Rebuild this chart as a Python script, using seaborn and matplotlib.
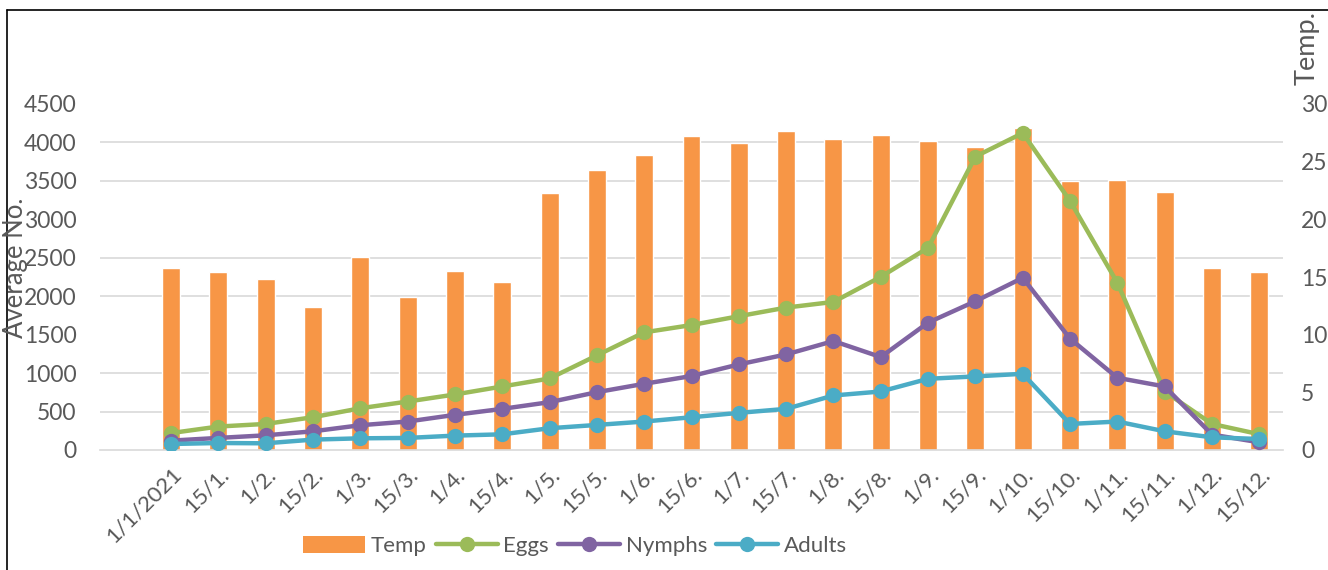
import numpy as np
import pandas as pd
import matplotlib
matplotlib.use('Agg')
import matplotlib.pyplot as plt
from matplotlib.lines import Line2D
from matplotlib.patches import Patch
from matplotlib.ticker import FixedLocator
import seaborn as sns

# --- data ---
dates = ['1/1/2021', '15/1.', '1/2.', '15/2.', '1/3.', '15/3.', '1/4.', '15/4.',
         '1/5.', '15/5.', '1/6.', '15/6.', '1/7.', '15/7.', '1/8.', '15/8.',
         '1/9.', '15/9.', '1/10.', '15/10.', '1/11.', '15/11.', '1/12.', '15/12.']
temp = [15.8, 15.4, 14.8, 12.4, 16.7, 13.3, 15.5, 14.6,
        22.3, 24.3, 25.6, 27.2, 26.6, 27.7, 27.0, 27.3,
        26.8, 26.3, 27.9, 23.3, 23.4, 22.4, 15.8, 15.4]
eggs = [220, 305, 339, 426, 543, 630, 722, 826,
        930, 1230, 1530, 1625, 1740, 1852, 1926, 2252,
        2630, 3817, 4122, 3239, 2174, 760, 339, 205]
nymphs = [122, 157, 191, 243, 322, 370, 457, 535,
          622, 752, 861, 962, 1113, 1243, 1417, 1209,
          1657, 1935, 2239, 1448, 939, 826, 200, 100]
adults = [78, 91, 87, 135, 152, 157, 187, 204,
          283, 326, 370, 426, 483, 535, 709, 761,
          926, 957, 991, 339, 370, 243, 165, 143]

series_names = ['Eggs', 'Nymphs', 'Adults']
colors = {'Temp': '#F79646', 'Eggs': '#9BBB59', 'Nymphs': '#8064A2', 'Adults': '#4BACC6'}

df_temp = pd.DataFrame({'date': dates, 'temp': temp})
df_lines = pd.DataFrame({'pos': np.arange(len(dates)), 'Eggs': eggs,
                         'Nymphs': nymphs, 'Adults': adults})
df_long = df_lines.melt(id_vars='pos', var_name='series', value_name='value')

# --- style ---
sns.set_style('white')
plt.rcParams['font.family'] = ['Lato', 'DejaVu Sans']
text_col = '#595959'
grid_col = '#D9D9D9'

fig = plt.figure(figsize=(13.28, 5.70), dpi=100)
ax1 = fig.add_axes([100 / 1328, 1 - 450 / 570, (1283 - 100) / 1328, (450 - 104) / 570])

# bars (temperature) on bottom axes, scale shown on the right
sns.barplot(data=df_temp, x='date', y='temp', color=colors['Temp'], width=0.38,
            saturation=1, ax=ax1, zorder=2)
ax1.set_ylim(0, 30)
ax1.set_xlim(-1.5, len(dates) - 0.5)
ax1.set_xlabel('')
ax1.set_ylabel('')

# lines (counts) on twin axes, scale on the left
ax2 = ax1.twinx()
sns.lineplot(data=df_long, x='pos', y='value', hue='series', hue_order=series_names,
             palette=colors, marker='o', markersize=11, markeredgewidth=0,
             linewidth=3.2, legend=False, ax=ax2, zorder=3)
ax2.set_ylim(0, 4500)
ax2.set_xlim(-1.5, len(dates) - 0.5)
ax2.set_xlabel('')
ax2.set_ylabel('')

# y axes: temp on the right, counts on the left
ax1.yaxis.tick_right()
ax1.set_yticks(np.arange(0, 31, 5))
ax2.yaxis.tick_left()
ax2.set_yticks(np.arange(0, 4501, 500))
# gridlines follow the left (count) axis, drawn on the bar axes so bars cover them
ax1.yaxis.set_minor_locator(FixedLocator(np.arange(0, 4501, 500) / 150))
ax1.grid(which='minor', axis='y', color=grid_col, linewidth=1.2, zorder=0)
ax1.grid(which='major', visible=False)
ax1.set_axisbelow(True)
ax1.tick_params(axis='y', which='both', length=0, labelsize=16.5, labelcolor=text_col, pad=13,
                left=False, labelleft=False, right=True, labelright=True)
ax2.tick_params(axis='y', length=0, labelsize=16.5, labelcolor=text_col, pad=17,
                left=True, labelleft=True, right=False, labelright=False)
ax2.grid(False)

# x ticks between categories
ax1.set_xticks(np.arange(len(dates)))
ax1.set_xticklabels(dates, rotation=45, ha='right', rotation_mode='anchor')
ax1.xaxis.set_minor_locator(FixedLocator(np.arange(-1.5, len(dates), 1.0)))
ax1.tick_params(axis='x', which='major', length=0, labelsize=16, labelcolor=text_col, pad=10)
ax1.tick_params(axis='x', which='minor', length=6, color=grid_col, width=1.2)
ax2.tick_params(axis='x', which='both', bottom=False, labelbottom=False)
for s in ['top', 'left', 'right']:
    ax1.spines[s].set_visible(False)
ax1.spines['bottom'].set_color(grid_col)
ax1.spines['bottom'].set_linewidth(1.2)
for s in ax2.spines.values():
    s.set_visible(False)

# axis titles
fig.text(16 / 1328, 1 - 268 / 570, 'Average No.', rotation=90, ha='center', va='center',
         fontsize=18.5, color=text_col)
fig.text(1307 / 1328, 1 - 48 / 570, 'Temp.', rotation=90, ha='center', va='center',
         fontsize=19.5, color=text_col)

# legend
handles = [Patch(facecolor=colors['Temp'], edgecolor='none')]
for name in series_names:
    handles.append(Line2D([0], [0], color=colors[name], linewidth=3.2, marker='o',
                          markersize=11, markeredgewidth=0))
fig.legend(handles, ['Temp'] + series_names, loc='center', ncol=4, frameon=False,
           bbox_to_anchor=(575 / 1328, 1 - 546 / 570), fontsize=16, handlelength=2.8,
           handleheight=0.8, columnspacing=0.4, handletextpad=0.25, labelcolor=text_col)

# outer border (left and top edges visible)
fig.add_artist(Line2D([7 / 1328, 7 / 1328], [0, 1 - 10 / 570], color='black',
                      linewidth=1.2, transform=fig.transFigure))
fig.add_artist(Line2D([7 / 1328, 1], [1 - 10 / 570, 1 - 10 / 570], color='black',
                      linewidth=1.2, transform=fig.transFigure))

fig.savefig('out.png', dpi=100)
